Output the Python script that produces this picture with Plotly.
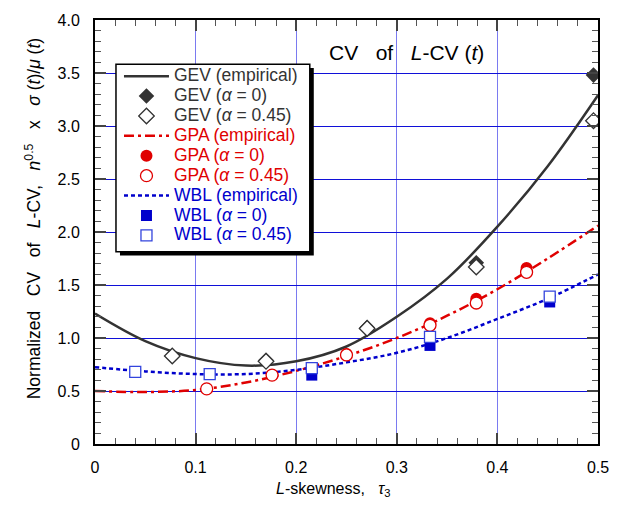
import plotly.graph_objects as go

# ---------------- data ----------------
tau_curve = [0.0, 0.05, 0.10, 0.15, 0.20, 0.25, 0.30, 0.35, 0.40, 0.45, 0.50]
gev_emp = [1.23, 0.97, 0.81, 0.74, 0.78, 0.92, 1.20, 1.56, 2.05, 2.62, 3.29]
gpa_emp = [0.50, 0.49, 0.51, 0.58, 0.69, 0.83, 1.00, 1.21, 1.46, 1.75, 2.06]
wbl_emp = [0.725, 0.685, 0.66, 0.66, 0.70, 0.77, 0.86, 1.00, 1.18, 1.37, 1.60]

tau_gev = [0.0768, 0.170, 0.2705, 0.379, 0.4955]
gev_a0 = [0.83, 0.79, 1.10, 1.71, 3.48]
gev_a45 = [0.83, 0.78, 1.09, 1.67, 3.05]

tau_gpa = [0.111, 0.176, 0.250, 0.333, 0.379, 0.429]
gpa_a0 = [0.52, 0.65, 0.85, 1.14, 1.37, 1.66]
gpa_a45 = [0.52, 0.65, 0.84, 1.12, 1.33, 1.62]

tau_wbl = [0.040, 0.114, 0.2155, 0.333, 0.452]
wbl_a0 = [0.68, 0.66, 0.65, 0.93, 1.34]
wbl_a45 = [0.68, 0.66, 0.715, 1.01, 1.39]

x_ticks = [0, 0.1, 0.2, 0.3, 0.4, 0.5]
x_ticktext = ["0", "0.1", "0.2", "0.3", "0.4", "0.5"]
y_ticks = [0, 0.5, 1.0, 1.5, 2.0, 2.5, 3.0, 3.5, 4.0]
y_ticktext = ["0", "0.5", "1.0", "1.5", "2.0", "2.5", "3.0", "3.5", "4.0"]

# ---------------- style ----------------
FONT = "Liberation Sans, Arial, sans-serif"
C_GEV = "#333333"
C_GPA = "#e00000"
C_WBL = "#0000cc"

def lab(color, text):
    return f'<span style="color:{color};font-size:17.5px">{text}</span>'

fig = go.Figure()

# curves
fig.add_trace(go.Scatter(x=tau_curve, y=gev_emp, mode="lines", line=dict(color=C_GEV, width=2.5, shape="spline"),
                         name=lab(C_GEV, "GEV (empirical)"), legendrank=1))
fig.add_trace(go.Scatter(x=tau_curve, y=gpa_emp, mode="lines", line=dict(color=C_GPA, width=2.5, shape="spline", dash="10px,4px,3px,4px"),
                         name=lab(C_GPA, "GPA (empirical)"), legendrank=4))
fig.add_trace(go.Scatter(x=tau_curve, y=wbl_emp, mode="lines", line=dict(color=C_WBL, width=2.5, shape="spline", dash="4px,3px"),
                         name=lab(C_WBL, "WBL (empirical)"), legendrank=7))

# filled markers
fig.add_trace(go.Scatter(x=tau_gev, y=gev_a0, mode="markers", marker=dict(symbol="diamond", size=12, color=C_GEV, line=dict(width=0)),
                         name=lab(C_GEV, "GEV (<i>α</i> = 0)"), legendrank=2))
fig.add_trace(go.Scatter(x=tau_gpa, y=gpa_a0, mode="markers", marker=dict(symbol="circle", size=12, color=C_GPA, line=dict(width=0)),
                         name=lab(C_GPA, "GPA (<i>α</i> = 0)"), legendrank=5))
fig.add_trace(go.Scatter(x=tau_wbl, y=wbl_a0, mode="markers", marker=dict(symbol="square", size=11, color=C_WBL, line=dict(width=0)),
                         name=lab(C_WBL, "WBL (<i>α</i> = 0)"), legendrank=8))

# open markers
fig.add_trace(go.Scatter(x=tau_gev, y=gev_a45, mode="markers", marker=dict(symbol="diamond", size=12, color="white", line=dict(width=1.3, color=C_GEV)),
                         name=lab(C_GEV, "GEV (<i>α</i> = 0.45)"), legendrank=3))
fig.add_trace(go.Scatter(x=tau_gpa, y=gpa_a45, mode="markers", marker=dict(symbol="circle", size=12, color="white", line=dict(width=1.3, color=C_GPA)),
                         name=lab(C_GPA, "GPA (<i>α</i> = 0.45)"), legendrank=6))
fig.add_trace(go.Scatter(x=tau_wbl, y=wbl_a45, mode="markers", marker=dict(symbol="square", size=11, color="white", line=dict(width=1.3, color="#3344dd")),
                         name=lab(C_WBL, "WBL (<i>α</i> = 0.45)"), legendrank=9))

# plot-area geometry in pixels (for paper conversions)
L, R, T, B = 95, 598.5, 12, 444
def px(x):
    return (x - L) / (R - L)
def py(y):
    return (B - y) / (B - T)

# legend box with shadow
shapes = [
    dict(type="rect", xref="paper", yref="paper", x0=px(120), x1=px(314), y0=py(252), y1=py(61),
         fillcolor="black", line=dict(width=0), layer="above"),
    dict(type="rect", xref="paper", yref="paper", x0=px(116), x1=px(310), y0=py(248), y1=py(57),
         fillcolor="white", line=dict(width=1.5, color="black"), layer="above"),
]

S3 = "\u00a0\u00a0\u00a0"
annotations = [
    dict(text=f"CV{S3}of{S3}<i>L</i>-CV (<i>t</i>)", xref="paper", yref="paper",
         x=px(407), y=py(45), showarrow=False, font=dict(family=FONT, size=21, color="black"),
         xanchor="center", yanchor="middle"),
    dict(text=f"Normalized{S3}CV{S3}of{S3}<i>L</i>-CV,{S3}<i>n</i><sup>0.5</sup>{S3}x{S3}<i>σ</i> (<i>t</i>)/<i>μ</i> (<i>t</i>)",
         xref="paper", yref="paper", x=px(33), y=py(215), showarrow=False, textangle=-90,
         font=dict(family=FONT, size=17.5, color="black"), xanchor="center", yanchor="middle"),
    dict(text=f"<i>L</i>-skewness,{S3}<i>τ</i><sub>3</sub>", xref="paper", yref="paper",
         x=px(333), y=py(490), showarrow=False, font=dict(family=FONT, size=16, color="black"),
         xanchor="center", yanchor="middle"),
]

fig.update_layout(
    width=626, height=506,
    margin=dict(l=L, r=626 - R, t=T, b=506 - B),
    paper_bgcolor="white", plot_bgcolor="white",
    font=dict(family=FONT, size=16, color="black"),
    showlegend=True,
    legend=dict(x=px(119), y=py(54), xanchor="left", yanchor="top", bgcolor="rgba(0,0,0,0)",
                borderwidth=0, font=dict(family=FONT, size=13), tracegroupgap=0, itemwidth=45),
    shapes=shapes,
    annotations=annotations,
)

fig.update_xaxes(range=[0, 0.5], tickvals=x_ticks, ticktext=x_ticktext,
                 showgrid=True, gridcolor="#7a7af0", gridwidth=1.3, zeroline=False,
                 showline=True, linecolor="black", linewidth=2, mirror="ticks",
                 ticks="inside", ticklen=11, tickwidth=1.5, tickcolor="#444444",
                 ticklabelstandoff=8,
                 minor=dict(dtick=0.02, ticks="inside", ticklen=6, tickwidth=1.2, tickcolor="#555555", showgrid=False))
fig.update_yaxes(range=[0, 4.0], tickvals=y_ticks, ticktext=y_ticktext,
                 showgrid=True, gridcolor="#1010d8", gridwidth=1.3, zeroline=False,
                 showline=True, linecolor="black", linewidth=2, mirror="ticks",
                 ticks="inside", ticklen=11, tickwidth=1.5, tickcolor="#444444",
                 ticklabelstandoff=10,
                 minor=dict(dtick=0.1, ticks="inside", ticklen=6, tickwidth=1.2, tickcolor="#555555", showgrid=False))

fig.write_html("out.html")
